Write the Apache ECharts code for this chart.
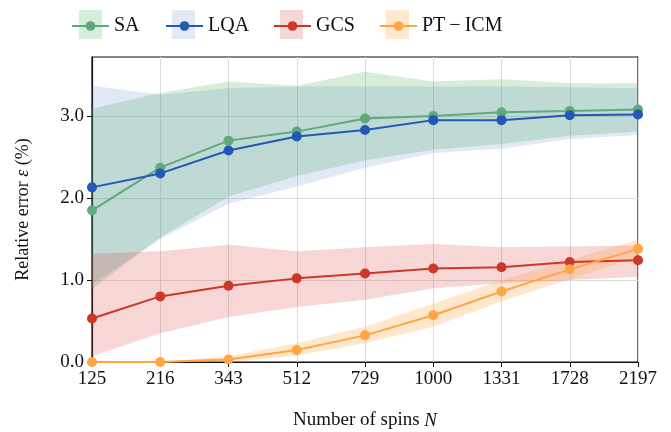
<!DOCTYPE html>
<html><head><meta charset="utf-8">
<script src="https://cdn.jsdelivr.net/npm/echarts@6/dist/echarts.min.js"></script>
<style>html,body{margin:0;padding:0;background:#fff}#c{width:671px;height:432px}</style>
</head><body><div id="c"></div>
<script>
const categories = ['125','216','343','512','729','1000','1331','1728','2197'];
const saMean  = [1.85, 2.37, 2.70, 2.81, 2.97, 3.00, 3.045, 3.06, 3.08];
const saLow   = [0.89, 1.52, 2.02, 2.27, 2.46, 2.59, 2.66, 2.76, 2.81];
const saHigh  = [3.09, 3.28, 3.42, 3.37, 3.54, 3.42, 3.45, 3.40, 3.40];
const lqaMean = [2.13, 2.30, 2.58, 2.75, 2.83, 2.95, 2.95, 3.01, 3.02];
const lqaLow  = [0.95, 1.50, 1.93, 2.14, 2.37, 2.55, 2.60, 2.72, 2.77];
const lqaHigh = [3.37, 3.26, 3.34, 3.36, 3.36, 3.36, 3.36, 3.35, 3.34];
const gcsMean = [0.53, 0.80, 0.93, 1.02, 1.08, 1.14, 1.155, 1.22, 1.24];
const gcsLow  = [0.07, 0.35, 0.55, 0.67, 0.76, 0.90, 0.96, 1.00, 1.04];
const gcsHigh = [1.32, 1.35, 1.43, 1.35, 1.40, 1.44, 1.40, 1.41, 1.42];
const ptMean  = [0.0, 0.0, 0.03, 0.146, 0.325, 0.57, 0.86, 1.13, 1.38];
const ptLow   = [0.0, 0.0, 0.0, 0.08, 0.23, 0.43, 0.74, 1.01, 1.28];
const ptHigh  = [0.0, 0.0, 0.07, 0.23, 0.43, 0.71, 1.00, 1.24, 1.49];
const yTicks = [0, 1, 2, 3];

const names = ['SA','LQA','GCS','PT\u2009\u2212\u2009ICM'];
const lineColors = ['#5fa97c','#2258b6','#cc3727','#ffa544'];
const bandColors = ['rgba(90,185,95,0.25)','rgba(80,120,200,0.17)','rgba(220,70,70,0.22)','rgba(255,160,60,0.25)'];
const means = [saMean, lqaMean, gcsMean, ptMean];
const lows = [saLow, lqaLow, gcsLow, ptLow];
const highs = [saHigh, lqaHigh, gcsHigh, ptHigh];

const series = [];
for (let i = 0; i < 4; i++) {
  series.push({
    type:'line', stack:'b'+i, data: lows[i], symbol:'none', silent:true,
    lineStyle:{opacity:0}, z:1
  });
  series.push({
    type:'line', stack:'b'+i, data: highs[i].map((h,k)=>+(h-lows[i][k]).toFixed(4)), symbol:'none', silent:true,
    lineStyle:{opacity:0}, areaStyle:{color:bandColors[i], opacity:1}, z:1
  });
}
for (let i = 0; i < 4; i++) {
  series.push({
    name: names[i], type:'line', data: means[i], symbol:'circle', symbolSize:10,
    lineStyle:{color:lineColors[i], width:2}, itemStyle:{color:lineColors[i]}, z:3+i
  });
}
const font = 'Liberation Serif';
const legLeft = [71, 165, 273, 379];
const legends = names.map((n,i)=>({
  data:[n], left: legLeft[i], top: 16, padding:0, itemWidth:37, itemHeight:12, itemGap:0,
  textStyle:{fontFamily:font, fontSize:20, color:'#111'}, selectedMode:false
}));
const patchX = [79, 172, 280, 386];
const graphic = patchX.map((x,i)=>({
  type:'rect', left:x, top:10, shape:{width:23, height:29}, z:-1,
  style:{fill:bandColors[i]}
}));

const chart = echarts.init(document.getElementById('c'), null, {renderer:'canvas'});
chart.setOption({
  animation:false,
  backgroundColor:'#fff',
  graphic: graphic,
  legend: legends,
  grid:{left:92, right:33, top:57, bottom:70, show:true, borderColor:'#111', borderWidth:1.2,
    backgroundColor:'transparent', containLabel:false, outerBoundsMode:'none'},
  xAxis:{
    type:'category', data:categories, boundaryGap:false,
    axisLine:{lineStyle:{color:'#111', width:1.2}},
    axisTick:{alignWithLabel:true, length:5, lineStyle:{color:'#111'}},
    axisLabel:{fontFamily:font, fontSize:19, color:'#111', margin:8},
    splitLine:{show:true, lineStyle:{color:'#dcdcdc', width:1}},
    name:'{a|Number of spins }{b|N}', nameLocation:'middle', nameGap:49,
    nameTextStyle:{rich:{a:{fontFamily:font, fontSize:19, color:'#111'}, b:{fontFamily:font, fontSize:19, fontStyle:'italic', color:'#111'}}}
  },
  yAxis:{
    type:'value', min:0, max:3.72, interval:1,
    axisLine:{show:true, lineStyle:{color:'#111', width:1.2}},
    axisTick:{show:true, length:5, customValues: yTicks, lineStyle:{color:'#111'}},
    axisLabel:{fontFamily:font, fontSize:19, color:'#111', margin:8, customValues: yTicks,
      formatter:v=> v.toFixed(1)},
    splitLine:{show:true, lineStyle:{color:'#dcdcdc', width:1}},
    name:'{a|Relative error }{b|ε}{a| (%)}', nameLocation:'middle', nameGap:60, nameRotate:90,
    nameTextStyle:{rich:{a:{fontFamily:font, fontSize:18, color:'#111'}, b:{fontFamily:font, fontSize:18, fontStyle:'italic', color:'#111'}}}
  },
  series: series
});
</script></body></html>
